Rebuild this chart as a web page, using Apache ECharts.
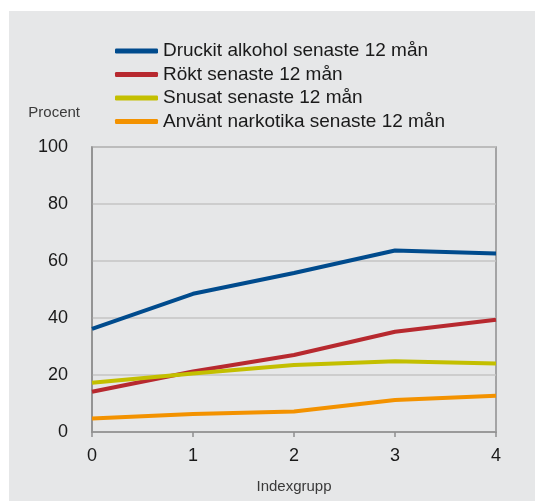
<!DOCTYPE html>
<html>
<head>
<meta charset="utf-8">
<script src="https://cdn.jsdelivr.net/npm/echarts@6/dist/echarts.min.js"></script>
<style>
  html, body { margin: 0; padding: 0; background: #fff; }
  #main { width: 535px; height: 501px; }
</style>
</head>
<body>
<div id="main"></div>
<script>
// Indexgrupp 0..4
var groups = [0, 1, 2, 3, 4];
var alkohol = [36.2, 48.5, 55.8, 63.7, 62.6];
var rokt = [14.1, 21.2, 27.0, 35.2, 39.4];
var snusat = [17.3, 20.5, 23.5, 24.8, 24.0];
var narkotika = [4.7, 6.3, 7.2, 11.2, 12.7];
var names = ['Druckit alkohol senaste 12 mån', 'Rökt senaste 12 mån',
  'Snusat senaste 12 mån', 'Använt narkotika senaste 12 mån'];
var colors = ['#004b8d', '#b7292f', '#c3bf00', '#f39200'];

function pairs(vals) {
  return vals.map(function (v, i) { return [groups[i], v]; });
}

var chart = echarts.init(document.getElementById('main'));
var font = 'Arial, "Liberation Sans", sans-serif';

var option = {
  animation: false,
  textStyle: { fontFamily: font },
  color: colors,
  graphic: [{
    type: 'rect',
    z: -100,
    shape: { x: 9, y: 11, width: 526, height: 490 },
    style: { fill: '#e6e7e8' }
  }],
  grid: {
    left: 92, right: 39, top: 147, bottom: 69,
    outerBoundsMode: 'none',
    show: true, borderColor: '#8f8f8f', borderWidth: 1.5
  },
  legend: {
    orient: 'vertical',
    left: 110, top: 36,
    itemWidth: 43, itemHeight: 5,
    itemGap: 3.5,
    icon: 'roundRect',
    textStyle: { fontSize: 19, color: '#1a1a1a', lineHeight: 20 },
    data: names
  },
  xAxis: {
    type: 'value',
    min: 0, max: 4, interval: 1,
    name: 'Indexgrupp',
    nameLocation: 'middle',
    nameGap: 47,
    nameTextStyle: { fontSize: 15, color: '#3a3a3a' },
    axisLine: { lineStyle: { color: '#8f8f8f', width: 1.5 } },
    axisTick: { show: true, length: 5, lineStyle: { color: '#8f8f8f', width: 1.5 } },
    axisLabel: { fontSize: 18, color: '#1a1a1a', margin: 15 },
    splitLine: { show: false }
  },
  yAxis: {
    type: 'value',
    min: 0, max: 100, interval: 20,
    name: 'Procent',
    nameGap: 27,
    nameTextStyle: { fontSize: 15, color: '#3a3a3a', align: 'right', padding: [0, 12, 0, 0] },
    axisLine: { show: true, lineStyle: { color: '#8f8f8f', width: 1.5 } },
    axisTick: { show: false },
    axisLabel: { fontSize: 18, color: '#1a1a1a', margin: 24 },
    splitLine: { lineStyle: { color: '#c4c4c4', width: 1.5 } }
  },
  series: [
    { name: names[0], type: 'line', data: pairs(alkohol) },
    { name: names[1], type: 'line', data: pairs(rokt) },
    { name: names[2], type: 'line', data: pairs(snusat) },
    { name: names[3], type: 'line', data: pairs(narkotika) }
  ].map(function (s, i) {
    s.showSymbol = false;
    s.symbol = 'none';
    s.lineStyle = { width: 4, color: colors[i] };
    s.itemStyle = { color: colors[i] };
    return s;
  })
};

chart.setOption(option);
</script>
</body>
</html>
